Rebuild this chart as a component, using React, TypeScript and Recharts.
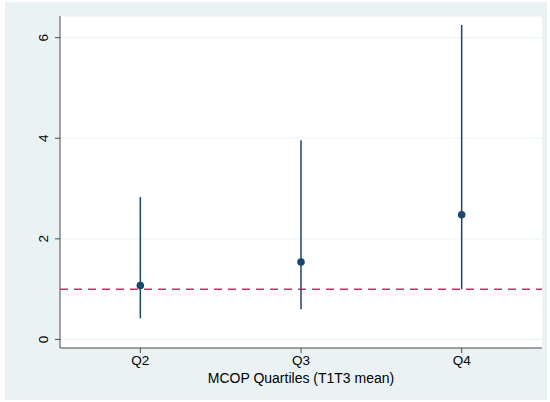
import React from 'react';
import {
  ComposedChart,
  Scatter,
  ErrorBar,
  XAxis,
  YAxis,
  CartesianGrid,
  ReferenceLine,
} from 'recharts';

// Odds-ratio style estimates with confidence intervals by quartile
const quartileLabels = ['Q2', 'Q3', 'Q4'];
const quartilePositions = [2, 3, 4];
const estimates = [1.07, 1.54, 2.48];
const lowerBounds = [0.42, 0.6, 1.0];
const upperBounds = [2.83, 3.96, 6.25];
const yTicks = [0, 2, 4, 6];
const referenceValue = 1;
const xAxisTitle = 'MCOP Quartiles (T1T3 mean)';

const data = quartileLabels.map((label, i) => ({
  label,
  pos: quartilePositions[i],
  est: estimates[i],
  ci: [estimates[i] - lowerBounds[i], upperBounds[i] - estimates[i]],
}));

const NAVY = '#1a476f';
const RED = '#c8345a';
const FONT = '"Liberation Sans", Arial, sans-serif';

const labelFor = (v: number) => {
  const idx = quartilePositions.indexOf(v);
  return idx >= 0 ? quartileLabels[idx] : '';
};

const YTick = (props: any) => {
  const { x, y, payload } = props;
  return (
    <text
      x={x}
      y={y}
      transform={`rotate(-90 ${x} ${y})`}
      textAnchor="middle"
      fontFamily={FONT}
      fontSize={13.5}
      fill="#000"
    >
      {payload.value}
    </text>
  );
};

const XTick = (props: any) => {
  const { x, y, payload } = props;
  return (
    <text x={x} y={y + 9.5} textAnchor="middle" fontFamily={FONT} fontSize={13.5} fill="#000">
      {labelFor(payload.value)}
    </text>
  );
};

const AxisTitle = (props: any) => {
  const vb = props.viewBox || {};
  const cx = vb.x + vb.width / 2;
  return (
    <text x={cx} y={383} textAnchor="middle" fontFamily={FONT} fontSize={14} fill="#000">
      {xAxisTitle}
    </text>
  );
};

const Dot = (props: any) => {
  const { cx, cy } = props;
  return <circle cx={cx} cy={cy} r={3.8} fill={NAVY} />;
};

export default function App() {
  return (
    <div style={{ position: 'absolute', left: 0, top: 0, width: 550, height: 402, background: '#fff' }}>
      <div
        style={{
          position: 'absolute',
          left: 5,
          top: 2,
          width: 542,
          height: 398,
          background: '#eaf2f3',
        }}
      />
      <div style={{ position: 'absolute', left: 0, top: 0 }}>
        <ComposedChart
          width={550}
          height={402}
          margin={{ top: 16, right: 8, left: 0, bottom: 0 }}
        >
          <CartesianGrid
            horizontal
            vertical={false}
            fill="#ffffff"
            stroke="#eaf2f3"
            strokeWidth={1}
          />
          <XAxis
            type="number"
            dataKey="pos"
            domain={[1.5, 4.5]}
            ticks={quartilePositions}
            allowDataOverflow
            height={54}
            tickSize={5}
            tickMargin={2}
            tick={<XTick />}
            axisLine={{ stroke: '#4a4a4a', strokeWidth: 1 }}
            tickLine={{ stroke: '#4a4a4a' }}
            label={<AxisTitle />}
          />
          <YAxis
            type="number"
            domain={[-0.17, 6.43]}
            ticks={yTicks}
            allowDataOverflow
            width={60}
            tickSize={5}
            tickMargin={7}
            tick={<YTick />}
            axisLine={{ stroke: '#4a4a4a', strokeWidth: 1 }}
            tickLine={{ stroke: '#4a4a4a' }}
          />
          <ReferenceLine
            y={referenceValue}
            stroke={RED}
            strokeWidth={1.5}
            strokeDasharray="8 6"
          />
          <Scatter data={data} dataKey="est" shape={<Dot />} isAnimationActive={false}>
            <ErrorBar
              dataKey="ci"
              direction="y"
              width={0}
              stroke={NAVY}
              strokeWidth={1.5}
              isAnimationActive={false}
            />
          </Scatter>
        </ComposedChart>
      </div>
    </div>
  );
}
